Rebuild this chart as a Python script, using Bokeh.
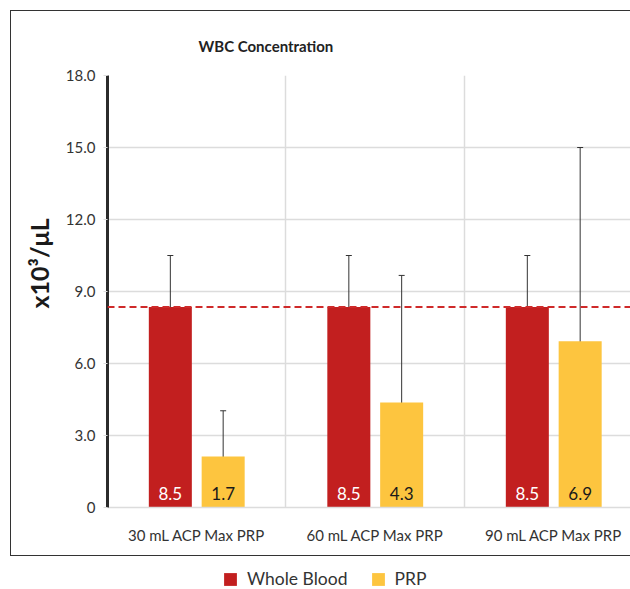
from bokeh.plotting import figure
from bokeh.layouts import column
from bokeh.models import (ColumnDataSource, Range1d, FixedTicker, Span, Whisker, TeeHead,
                          Legend, LegendItem, Title, InlineStyleSheet)
from bokeh.core.properties import value
from bokeh.embed import file_html
from bokeh.resources import INLINE

categories = ["30 mL ACP Max PRP", "60 mL ACP Max PRP", "90 mL ACP Max PRP"]
series_names = ["Whole Blood", "PRP"]
wb_values = [8.35, 8.35, 8.35]
prp_values = [2.12, 4.38, 6.93]
wb_labels = ["8.5", "8.5", "8.5"]
prp_labels = ["1.7", "4.3", "6.9"]
wb_upper = [10.5, 10.5, 10.5]
wb_lower = [6.7, 6.7, 6.7]
prp_upper = [4.03, 9.67, 15.0]
prp_lower = [1.12, 0.93, 0.93]
baseline_value = 8.35
y_ticks = [0, 3, 6, 9, 12, 15, 18]

FONT = "Lato"
RED = "#C21F1F"
YELLOW = "#FDC53F"
TXT = "#333333"

centers = [i + 0.5 for i in range(len(categories))]
off = 0.148
bw = 0.241
wb_x = [c - off for c in centers]
prp_x = [c + off for c in centers]

wb_src = ColumnDataSource(dict(x=wb_x, top=wb_values, lab=wb_labels, up=wb_upper, lo=wb_lower))
prp_src = ColumnDataSource(dict(x=prp_x, top=prp_values, lab=prp_labels, up=prp_upper, lo=prp_lower))

p = figure(width=630, height=558, output_backend="svg", toolbar_location=None,
           x_range=Range1d(0, 2.93), y_range=Range1d(0, 18),
           min_border_left=107, min_border_right=0, min_border_top=75, min_border_bottom=51)
p.outline_line_color = None
p.background_fill_color = "white"
p.border_fill_color = "white"

# outer frame line (decoration), drawn with CSS so it does not affect layout
p.stylesheets = [InlineStyleSheet(css="""
:host::after {
  content: ""; position: absolute; left: 10px; top: 10px; width: 620px; height: 546px;
  border-top: 1.5px solid #333; border-left: 1.5px solid #333; border-bottom: 1.5px solid #333;
  pointer-events: none; box-sizing: border-box;
}
""")]

# Title
p.title.text = "WBC Concentration"
p.title.text_font = FONT
p.title.text_font_style = "bold"
p.title.text_font_size = "15px"
p.title.text_color = "#222222"
p.title.align = "left"
p.title.offset = 91
p.title.standoff = 42

wb_r = p.vbar(x="x", top="top", width=bw, source=wb_src, fill_color=RED, line_color=None)
prp_r = p.vbar(x="x", top="top", width=bw, source=prp_src, fill_color=YELLOW, line_color=None)

for src in (wb_src, prp_src):
    w = Whisker(base="x", upper="up", lower="lo", source=src, dimension="height",
                line_color="#333333", line_width=1,
                upper_head=TeeHead(size=6, line_color="#333333", line_width=1),
                lower_head=TeeHead(size=6, line_color="#333333", line_width=1))
    p.add_layout(w)

p.add_layout(Span(location=baseline_value, dimension="width", line_color="#CF2A2A",
                  line_width=2, line_dash="7 4"))

p.text(x="x", y=0.6, text="lab", source=wb_src, text_color="white", text_align="center",
       text_baseline="middle", text_font=value(FONT), text_font_size="17px")
p.text(x="x", y=0.6, text="lab", source=prp_src, text_color="#1a1a1a", text_align="center",
       text_baseline="middle", text_font=value(FONT), text_font_size="17px")

# axes
p.yaxis.ticker = FixedTicker(ticks=y_ticks)
p.yaxis.major_label_overrides = {t: ("0" if t == 0 else f"{t:.1f}") for t in y_ticks}
p.yaxis.axis_line_color = "#2b2b2b"
p.yaxis.axis_line_width = 3
p.yaxis.major_tick_line_color = "#dcdcdc"
p.yaxis.major_tick_out = 4
p.yaxis.major_tick_in = 0
p.yaxis.minor_tick_line_color = None
p.yaxis.major_label_standoff = 8
p.yaxis.major_label_text_font = FONT
p.yaxis.major_label_text_font_size = "15px"
p.yaxis.major_label_text_color = TXT

p.xaxis.ticker = FixedTicker(ticks=centers)
p.xaxis.major_label_overrides = {c: n for c, n in zip(centers, categories)}
p.xaxis.axis_line_color = "#dcdcdc"
p.xaxis.axis_line_width = 1.5
p.xaxis.major_tick_line_color = None
p.xaxis.minor_tick_line_color = None
p.xaxis.major_label_standoff = 12
p.xaxis.major_label_text_font = FONT
p.xaxis.major_label_text_font_size = "15px"
p.xaxis.major_label_text_color = TXT

p.ygrid.grid_line_color = "#dcdcdc"
p.ygrid.grid_line_width = 1.5
p.xgrid.ticker = FixedTicker(ticks=[1, 2])
p.xgrid.grid_line_color = "#dcdcdc"
p.xgrid.grid_line_width = 1.5

# y axis label as a rotated side title
ylab = Title(text="x10³/μL", align="left", offset=199, standoff=17,
             text_font=FONT, text_font_style="bold", text_font_size="25px",
             text_color="#1a1a1a")
p.add_layout(ylab, "left")

# legend in its own strip below the bordered chart (frame aligned with the chart's frame)
leg = figure(width=630, height=31, output_backend="svg", toolbar_location=None,
             x_range=Range1d(-20, -19), y_range=Range1d(-20, -19),
             x_axis_type=None, y_axis_type=None,
             min_border_left=0, min_border_right=0, min_border_top=0, min_border_bottom=0)
leg.outline_line_color = None
leg.xgrid.visible = False
leg.ygrid.visible = False
lr1 = leg.vbar(x="x", top="top", width=bw, source=wb_src, fill_color=RED, line_color=None)
lr2 = leg.vbar(x="x", top="top", width=bw, source=prp_src, fill_color=YELLOW, line_color=None)
legend = Legend(items=[LegendItem(label=series_names[0], renderers=[lr1]),
                       LegendItem(label=series_names[1], renderers=[lr2])],
                orientation="horizontal", location=(115, 0),
                label_text_font=FONT, label_text_font_size="17.5px", label_text_color=TXT,
                glyph_width=16, glyph_height=16, label_standoff=9, spacing=22,
                padding=0, margin=0, border_line_color=None, background_fill_alpha=0)
leg.add_layout(legend, "center")

layout = column(p, leg, spacing=0)
open("out.html", "w").write(file_html(layout, INLINE))
